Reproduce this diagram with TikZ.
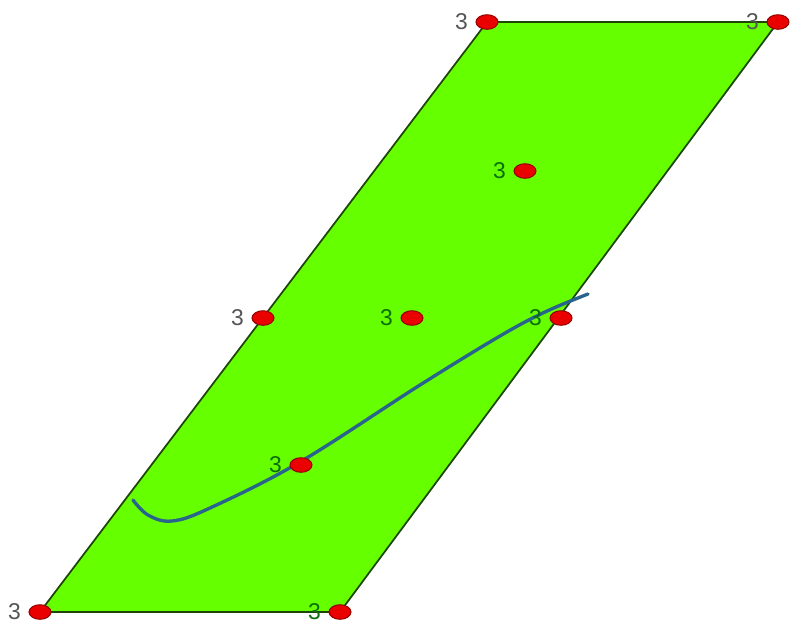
\documentclass[tikz,border=0pt]{standalone}
\usepackage{fontspec}
\setmainfont{Liberation Sans}
\usepackage{xcolor}
\usepackage{tikz}
\usetikzlibrary{positioning,shapes.geometric}

\definecolor{leaf}{RGB}{102,255,0}
\definecolor{edgegreen}{RGB}{30,70,10}
\definecolor{dotred}{RGB}{235,0,0}
\definecolor{dotrim}{RGB}{150,0,0}
\definecolor{curveblue}{RGB}{40,100,140}
\definecolor{labgray}{RGB}{85,85,85}
\definecolor{labgreen}{RGB}{10,110,10}

\begin{document}
\begin{tikzpicture}[
        x=0.02cm, y=-0.02cm,
        font=\fontsize{13pt}{15pt}\selectfont,
        vtx/.style   ={ellipse, draw=dotrim, fill=dotred, line width=0.6pt, minimum width=0.44cm, minimum height=0.29cm, inner sep=0pt},
        outlab/.style={label={[labgray, label distance=0.3mm]left:3}},
        inlab/.style ={label={[labgreen, label distance=0.3mm]left:3}},
        sheet/.style ={fill=leaf, draw=edgegreen, line width=1pt},
        trace/.style ={draw=curveblue, line width=1.9pt, line cap=round},
    ]
        \useasboundingbox (0,0) rectangle (792,623);

        % --- Corners ---
        \coordinate (bl) at (40,612);
        \coordinate (br) at (340,612);
        \coordinate (tr) at (778,22);
        \coordinate (tl) at (487,22);

        % --- Sheet ---
        \path[sheet] (bl) -- (br) -- (tr) -- (tl) -- cycle;

        % --- Curve ---
        \draw[trace] plot[smooth, tension=0.6] coordinates {(133,500) (148,515) (172,521) (210,508) (300,462) (420,385) (500,336) (545,312) (588,294)};

        % --- Points ---
        \node[vtx, outlab] (n1) at (bl) {};
        \node[vtx, inlab]  (n2) at (br) {};
        \node[vtx, outlab] (n3) at (tr) {};
        \node[vtx, outlab] (n4) at (tl) {};
        \node[vtx, outlab] (n5) at (263,318) {};
        \node[vtx, inlab]  (n6) at (561,318) {};
        \node[vtx, inlab]  (n7) at (412,318) {};
        \node[vtx, inlab]  (n8) at (525,171) {};
        \node[vtx, inlab]  (n9) at (301,465) {};
    \end{tikzpicture}
\end{document}
